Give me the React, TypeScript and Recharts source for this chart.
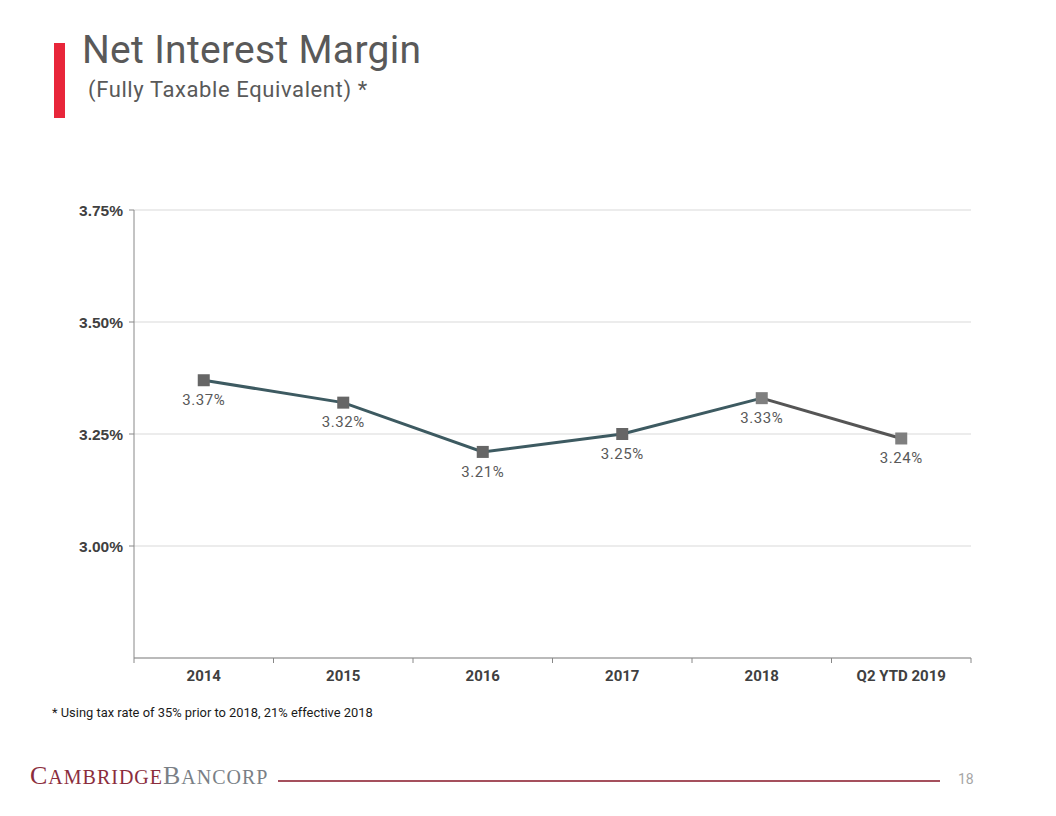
import React from 'react';
import { LineChart, Line, XAxis, YAxis, CartesianGrid, LabelList } from 'recharts';

const categories = ['2014', '2015', '2016', '2017', '2018', 'Q2 YTD 2019'];
const marginValues = [3.37, 3.32, 3.21, 3.25, 3.33, 3.24];
const yTicks = [3.0, 3.25, 3.5, 3.75];
const yDomain = [2.75, 3.75];

const TEAL_UNTIL = 4; // index where the teal segment ends

const data = categories.map((c, i) => ({
  name: c,
  all: marginValues[i],
  early: i <= TEAL_UNTIL ? marginValues[i] : null,
  late: i >= TEAL_UNTIL ? marginValues[i] : null,
}));

const CHART_W = 1056;
const CHART_H = 816;
const M = { top: 210, right: 85, left: 74, bottom: 128 };
const PLOT_W = CHART_W - M.left - M.right - 60;

const SquareDot = (props: any) => {
  const { cx, cy, index } = props;
  if (cx == null || cy == null) return null;
  const fill = index >= TEAL_UNTIL ? '#7f7f7f' : '#666666';
  return <rect x={cx - 6} y={cy - 6} width={12} height={12} fill={fill} />;
};

const XTick = (props: any) => {
  const { x, y, payload, index } = props;
  const bw = PLOT_W / categories.length;
  const left = x - bw / 2;
  const last = index === categories.length - 1;
  return (
    <g>
      <line x1={left} y1={y - 8} x2={left} y2={y - 3} stroke="#888" />
      {last && <line x1={left + bw} y1={y - 8} x2={left + bw} y2={y - 3} stroke="#888" />}
      <text
        x={x}
        y={y + 15}
        textAnchor="middle"
        fill="#404040"
        fontFamily="Roboto, sans-serif"
        fontWeight={700}
        fontSize={15}
      >
        {payload.value}
      </text>
    </g>
  );
};

export default function App() {
  return (
    <div style={{ position: 'absolute', left: 0, top: 0, width: CHART_W, height: CHART_H, background: '#fff', overflow: 'hidden' }}>
      <div style={{ position: 'absolute', left: 54, top: 43, width: 11, height: 75, background: '#e8263a' }} />
      <div style={{ position: 'absolute', left: 82, top: 27, fontFamily: 'Roboto, sans-serif', fontSize: 39, color: '#595959', lineHeight: '46px', whiteSpace: 'nowrap', letterSpacing: 0.3 }}>
        Net Interest Margin
      </div>
      <div style={{ position: 'absolute', left: 88, top: 76, fontFamily: 'Roboto, sans-serif', fontSize: 22, color: '#595959', lineHeight: '28px', whiteSpace: 'nowrap', letterSpacing: 0.6 }}>
        (Fully Taxable Equivalent) *
      </div>
      <div style={{ position: 'absolute', left: 0, top: 0 }}>
        <LineChart width={CHART_W} height={CHART_H} data={data} margin={M}>
          <CartesianGrid vertical={false} stroke="#d9d9d9" />
          <XAxis
            dataKey="name"
            scale="band"
            height={30}
            axisLine={{ stroke: '#888' }}
            tickLine={false}
            tick={<XTick />}
            interval={0}
          />
          <YAxis
            type="number"
            domain={yDomain}
            ticks={yTicks}
            width={60}
            axisLine={{ stroke: '#888' }}
            tickLine={{ stroke: '#888' }}
            tickSize={5}
            tickMargin={6}
            tickFormatter={(v: number) => v.toFixed(2) + '%'}
            tick={{ fill: '#404040', fontFamily: 'Liberation Sans, Arial, sans-serif', fontWeight: 700, fontSize: 15.5 }}
            interval={0}
          />
          <Line dataKey="early" stroke="#3d5a61" strokeWidth={3} dot={false} isAnimationActive={false} connectNulls={false} />
          <Line dataKey="late" stroke="#555555" strokeWidth={3} dot={false} isAnimationActive={false} connectNulls={false} />
          <Line dataKey="all" stroke="none" dot={<SquareDot />} activeDot={false} isAnimationActive={false}>
            <LabelList
              dataKey="all"
              position="bottom"
              offset={14}
              formatter={(v: number) => v.toFixed(2) + '%'}
              style={{ fill: '#595959', fontFamily: 'Roboto, sans-serif', fontSize: 15, letterSpacing: 0.6 }}
            />
          </Line>
        </LineChart>
      </div>
      <div style={{ position: 'absolute', left: 52, top: 705, fontFamily: 'Roboto, sans-serif', fontSize: 12.9, color: '#1a1a1a', whiteSpace: 'nowrap' }}>
        * Using tax rate of 35% prior to 2018, 21% effective 2018
      </div>
      <div style={{ position: 'absolute', left: 30, top: 762, fontFamily: '"Liberation Serif", serif', whiteSpace: 'nowrap', lineHeight: '28px', letterSpacing: 1 }}>
        <span style={{ color: '#8b2d3c', fontSize: 26 }}>C</span>
        <span style={{ color: '#8b2d3c', fontSize: 20 }}>AMBRIDGE</span>
        <span style={{ color: '#7a7f86', fontSize: 26 }}>B</span>
        <span style={{ color: '#7a7f86', fontSize: 20 }}>ANCORP</span>
      </div>
      <div style={{ position: 'absolute', left: 278, top: 780, width: 662, height: 1.5, background: '#a5505d' }} />
      <div style={{ position: 'absolute', left: 958, top: 771, fontFamily: 'Roboto, sans-serif', fontSize: 14, color: '#a6a6a6' }}>18</div>
    </div>
  );
}
